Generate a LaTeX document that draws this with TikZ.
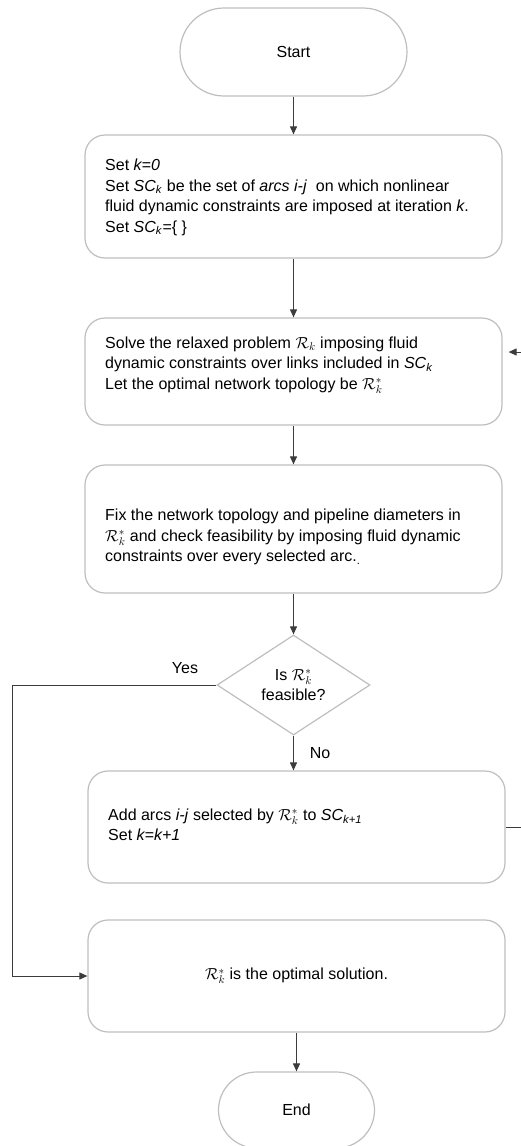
\RequirePackage{fix-cm}
\documentclass[tikz,border=0pt]{standalone}
\usepackage{fontspec}
\setmainfont{Liberation Sans}
\usetikzlibrary{arrows.meta,shapes.geometric}
\definecolor{boxgray}{RGB}{190,190,190}
\definecolor{linegray}{RGB}{60,60,60}
\newcommand{\SC}[1]{\textit{SC}\textsubscript{\textit{#1}}}
\newcommand{\Rk}{$\mathcal{R}_k$}
\newcommand{\Rks}{$\mathcal{R}_k^*$}

\begin{document}
\begin{tikzpicture}[x=1pt,y=-1pt,
  every node/.style={font=\fontsize{16}{20.5}\selectfont},
  box/.style={draw=boxgray, line width=1.2pt, rounded corners=20pt,
    minimum width=417pt, inner sep=0pt},
  term/.style={draw=boxgray, line width=1.2pt, inner sep=0pt},
  decision/.style={diamond, draw=boxgray, line width=1.2pt, aspect=1.53,
    minimum width=153pt, minimum height=100pt, inner sep=0pt, align=center},
  txt/.style={anchor=west, align=left, inner sep=0pt},
  flow/.style={draw=linegray, line width=1pt, -{Triangle[length=8pt,width=7pt]}}]

\useasboundingbox (0,0) rectangle (520,1146);

% terminals
\node[term, rounded corners=44pt, minimum width=227pt, minimum height=88pt] (start) at (293.5,52) {Start};
\node[term, rounded corners=38pt, minimum width=156pt, minimum height=76pt] (end) at (296.5,1110) {End};

% process boxes
\node[box, minimum height=123pt] (b1) at (293.5,196.5) {};
\node[box, minimum height=107pt] (b2) at (293.5,371.5) {};
\node[box, minimum height=128pt] (b3) at (293.5,529) {};
\node[box, minimum height=112pt] (b4) at (296.5,827) {};
\node[box, minimum height=112pt] (b5) at (296.5,976) {\Rks{} is the optimal solution.};

% box texts
\node[txt] (t1) at (105,197.5) {Set \textit{k=0}\\
  Set \SC{k} be the set of \textit{arcs i-j}\ \ on which nonlinear\\
  fluid dynamic constraints are imposed at iteration \textit{k}.\\
  Set \SC{k}=\{ \}};
\node[txt] (t2) at (105,365) {Solve the relaxed problem \Rk{} imposing fluid\\
  dynamic constraints over links included in \SC{k}\\
  Let the optimal network topology be \Rks};
\node[txt] (t3) at (105,537) {Fix the network topology and pipeline diameters in\\
  \Rks{} and check feasibility by imposing fluid dynamic\\
  constraints over every selected arc.\textsubscript{.}};
\node[txt] (t4) at (108,825) {Add arcs \textit{i-j} selected by \Rks{} to \SC{k+1}\\
  Set \textit{k=k+1}};

% decision
\node[decision] (dec) at (293.5,685) {Is \Rks\\feasible?};

% loop routing points
\coordinate (yl) at (12,686);
\coordinate (fr) at (526,352);

% connectors
\draw[flow] (start) -- (b1);
\draw[flow] (b1) -- (b2);
\draw[flow] (b2) -- (b3);
\draw[flow] (b3) -- (dec);
\draw[flow] (dec.south) -- (dec.south |- b4.north);
\draw[flow] (b5) -- (end);
\draw[flow] (dec.west) -- (dec.west -| yl) |- (b5.west);
\draw[flow, shorten >=6pt] (b4.east) -- (b4.east -| fr) |- ([yshift=19.5pt]b2.east);

% branch labels
\node (yes) at (185,668) {Yes};
\node (no) at (320,753) {No};
\end{tikzpicture}
\end{document}
